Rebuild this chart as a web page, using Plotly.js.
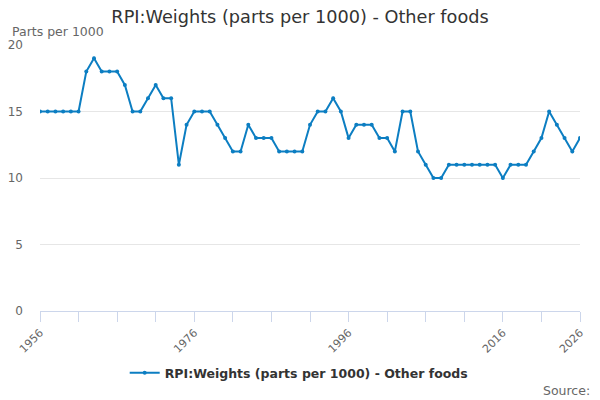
<!DOCTYPE html>
<html>
<head>
<meta charset="utf-8">
<script src="https://cdn.plot.ly/plotly-3.0.1.min.js"></script>
<style>
  html, body { margin: 0; padding: 0; background: #fff; }
  #chart { width: 600px; height: 400px; }
</style>
</head>
<body>
<div id="chart"></div>
<script>
// years 1956..2026
let years = [];
for (let y = 1956; y <= 2026; y++) years.push(y);

let weights = [
  15, 15, 15, 15, 15, 15, 18, 19, 18, 18,   // 1956-1965
  18, 17, 15, 15, 16, 17, 16, 16, 11, 14,   // 1966-1975
  15, 15, 15, 14, 13, 12, 12, 14, 13, 13,   // 1976-1985
  13, 12, 12, 12, 12, 14, 15, 15, 16, 15,   // 1986-1995
  13, 14, 14, 14, 13, 13, 12, 15, 15, 12,   // 1996-2005
  11, 10, 10, 11, 11, 11, 11, 11, 11, 11,   // 2006-2015
  10, 11, 11, 11, 12, 13, 15, 14, 13, 12,   // 2016-2025
  13                                        // 2026
];

let tickYears = [1956, 1961, 1966, 1971, 1976, 1981, 1986, 1991, 1996, 2001, 2006, 2011, 2016, 2021, 2026];
let labelYears = [1956, 1976, 1996, 2016, 2026];
let tickText = tickYears.map(y => labelYears.includes(y) ? String(y) : "");

let seriesName = "RPI:Weights (parts per 1000) - Other foods";
let blue = "#0c7ec2";
let font = "DejaVu Sans, sans-serif";

let trace = {
  x: years,
  y: weights,
  name: seriesName,
  type: "scatter",
  mode: "lines+markers",
  line: { color: blue, width: 2 },
  marker: { color: blue, size: 4 },
  hoverinfo: "x+y"
};

let layout = {
  width: 600,
  height: 400,
  margin: { l: 40, r: 20, t: 45, b: 89 },
  paper_bgcolor: "#fff",
  plot_bgcolor: "#fff",
  font: { family: font, color: "#666" },
  title: {
    text: seriesName,
    font: { family: font, size: 17.7, color: "#333" },
    x: 0.5,
    xanchor: "center",
    yref: "container",
    y: 0.957,
    yanchor: "middle"
  },
  xaxis: {
    range: [1956, 2026],
    automargin: false,
    tickmode: "array",
    tickvals: tickYears,
    ticktext: tickText,
    tickangle: -45,
    ticks: "outside",
    ticklen: 10,
    tickcolor: "#ccd6eb",
    showline: true,
    linecolor: "#ccd6eb",
    linewidth: 1,
    showgrid: false,
    zeroline: false,
    tickfont: { family: font, size: 11, color: "#666" },
    fixedrange: true
  },
  yaxis: {
    range: [0, 20.001],
    automargin: false,
    tickvals: [0, 5, 10, 15, 20],
    showgrid: true,
    gridcolor: "#e6e6e6",
    gridwidth: 1,
    zeroline: false,
    showline: false,
    ticks: "",
    ticklabelstandoff: 16,
    tickfont: { family: font, size: 12, color: "#666" },
    fixedrange: true
  },
  showlegend: true,
  legend: {
    orientation: "h",
    x: 0.48,
    xanchor: "center",
    yref: "container",
    y: 0.0675,
    yanchor: "middle",
    font: { family: font, size: 12.5, color: "#333", weight: "bold" }
  },
  annotations: [
    {
      text: "Parts per 1000",
      xref: "paper", yref: "paper",
      x: -0.056, y: 1.049,
      xanchor: "left", yanchor: "middle",
      showarrow: false,
      font: { family: font, size: 12.5, color: "#666" }
    },
    {
      text: "Source:",
      xref: "paper", yref: "paper",
      x: 1.022, y: -0.297,
      xanchor: "right", yanchor: "middle",
      showarrow: false,
      font: { family: font, size: 12.5, color: "#666" }
    }
  ]
};

Plotly.newPlot("chart", [trace], layout, { displayModeBar: false, staticPlot: true });
</script>
</body>
</html>
